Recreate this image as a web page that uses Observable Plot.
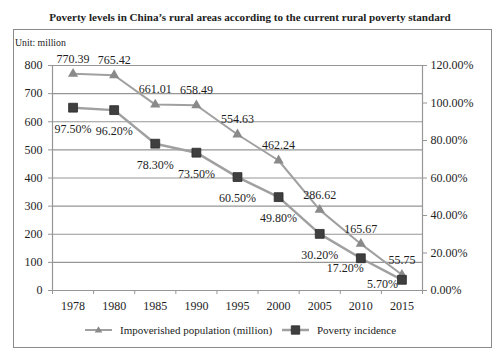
<!DOCTYPE html>
<html><head><meta charset="utf-8">
<script src="https://cdn.jsdelivr.net/npm/d3@7"></script>
<script src="https://cdn.jsdelivr.net/npm/@observablehq/plot@0.6"></script>
<style>
body{margin:0;background:#fff;font-family:"Liberation Serif","Times New Roman",serif;color:#222;}
#wrap{position:relative;width:500px;height:353px;overflow:hidden;background:#fff;}
#title{position:absolute;left:0;top:10px;width:500px;text-align:center;font-weight:bold;font-size:11.1px;line-height:14px;white-space:nowrap;}
#box{position:absolute;left:13px;top:29px;width:477px;height:317px;border:1px solid #8a8a8a;}
#unit{position:absolute;left:1px;top:6px;font-size:9.8px;line-height:13px;}
#chart{position:absolute;left:0;top:0;}
.leg{position:absolute;top:293px;height:14px;display:flex;align-items:center;font-size:11px;line-height:14px;white-space:nowrap;}
.leg svg{margin-right:8px;}
</style></head>
<body>
<div id="wrap">
  <div id="title">Poverty levels in China’s rural areas according to the current rural poverty standard</div>
  <div id="box">
    <div id="chart"></div>
    <div id="unit">Unit: million</div>
    <div class="leg" id="leg1" style="left:71px"></div>
    <div class="leg" id="leg2" style="left:268px"></div>
  </div>
</div>
<script>
const years = ["1978","1980","1985","1990","1995","2000","2005","2010","2015"];
const population = [770.39,765.42,661.01,658.49,554.63,462.24,286.62,165.67,55.75];
const incidence = [97.5,96.2,78.3,73.5,60.5,49.8,30.2,17.2,5.7];
const leftTicks = [0,100,200,300,400,500,600,700,800];
const rightTicks = [0,20,40,60,80,100,120];
const seriesNames = ["Impoverished population (million)","Poverty incidence"];

const popMax = leftTicks[leftTicks.length-1];
const pctMax = rightTicks[rightTicks.length-1];
const k = popMax/pctMax;
const rows = years.map((y,i)=>({i, year:y, pop:population[i], pct:incidence[i], pctY:incidence[i]*k}));
const axisColor = "#969696";
const lineColor = "#a0a0a0";
const textColor = "#1e1e1e";

const chart = Plot.plot({
  width:477, height:290,
  marginLeft:38, marginRight:69, marginTop:35, marginBottom:30,
  style:{fontFamily:"'Liberation Serif','Times New Roman',serif", fontSize:"12px", color:textColor, background:"transparent", overflow:"visible"},
  x:{domain:[-0.5, years.length-0.5], axis:null},
  y:{domain:[0,popMax], axis:null},
  marks:[
    Plot.gridY(leftTicks, {stroke:axisColor, strokeOpacity:1, strokeWidth:1.2}),
    Plot.ruleX([-0.5, years.length-0.5], {stroke:axisColor, strokeWidth:1.2}),
    Plot.ruleY([0], {stroke:axisColor, strokeWidth:1.2}),
    Plot.axisY(leftTicks, {anchor:"left", tickSize:4, tickPadding:6, stroke:axisColor, fill:textColor, label:null}),
    Plot.axisY(rightTicks.map(p=>p*k), {anchor:"right", tickSize:4, tickPadding:4, stroke:axisColor, fill:textColor, label:null,
      tickFormat: v => (v/k).toFixed(2)+"%"}),
    Plot.axisX(d3.range(years.length), {tickSize:0, tickPadding:11, fill:textColor, label:null, tickFormat: i => years[i]}),
    Plot.axisX(d3.range(years.length+1).map(i=>i-0.5), {tickSize:4, stroke:axisColor, label:null, tickFormat: () => ""}),
    Plot.lineY(rows, {x:"i", y:"pop", stroke:lineColor, strokeWidth:2}),
    Plot.lineY(rows, {x:"i", y:"pctY", stroke:lineColor, strokeWidth:2.5}),
    Plot.dot(rows, {x:"i", y:"pop", symbol:"triangle", r:3.8, fill:"#8a8a8a", stroke:"none"}),
    Plot.dot(rows, {x:"i", y:"pctY", symbol:"square", r:5, fill:"#3f3f3f", stroke:"#2a2a2a", strokeWidth:0.8}),
    Plot.text(rows, {x:"i", y:"pop", text:d=>d.pop.toFixed(2), dy:-15, fill:textColor}),
    Plot.text(rows.slice(0,7), {x:"i", y:"pctY", text:d=>d.pct.toFixed(2)+"%", dy:21, fill:textColor}),
    Plot.text(rows.slice(7,8), {x:"i", y:"pctY", text:d=>d.pct.toFixed(2)+"%", textAnchor:"end", dx:3, dy:10, fill:textColor}),
    Plot.text(rows.slice(8), {x:"i", y:"pctY", text:d=>d.pct.toFixed(2)+"%", textAnchor:"end", dx:-4, dy:4, fill:textColor})
  ]
});
document.getElementById("chart").appendChild(chart);

function swatch(kind){
  const ns="http://www.w3.org/2000/svg";
  const s=document.createElementNS(ns,"svg");
  s.setAttribute("width","27");s.setAttribute("height","12");
  const l=document.createElementNS(ns,"line");
  l.setAttribute("x1","0");l.setAttribute("x2","27");l.setAttribute("y1","6");l.setAttribute("y2","6");
  l.setAttribute("stroke",lineColor);l.setAttribute("stroke-width",kind==="tri"?"2":"2.5");
  s.appendChild(l);
  const p=document.createElementNS(ns,"path");
  if(kind==="tri"){p.setAttribute("d","M13.5,2.3L17.3,8.6L9.7,8.6Z");p.setAttribute("fill","#8a8a8a");}
  else{p.setAttribute("d","M9.3,1.8h8.4v8.4h-8.4Z");p.setAttribute("fill","#3f3f3f");p.setAttribute("stroke","#2a2a2a");p.setAttribute("stroke-width","0.8");}
  s.appendChild(p);
  return s;
}
[["leg1","tri",0],["leg2","sq",1]].forEach(([id,kind,n])=>{
  const el=document.getElementById(id);
  el.appendChild(swatch(kind));
  const t=document.createElement("span");t.textContent=seriesNames[n];el.appendChild(t);
});
</script>
</body></html>
